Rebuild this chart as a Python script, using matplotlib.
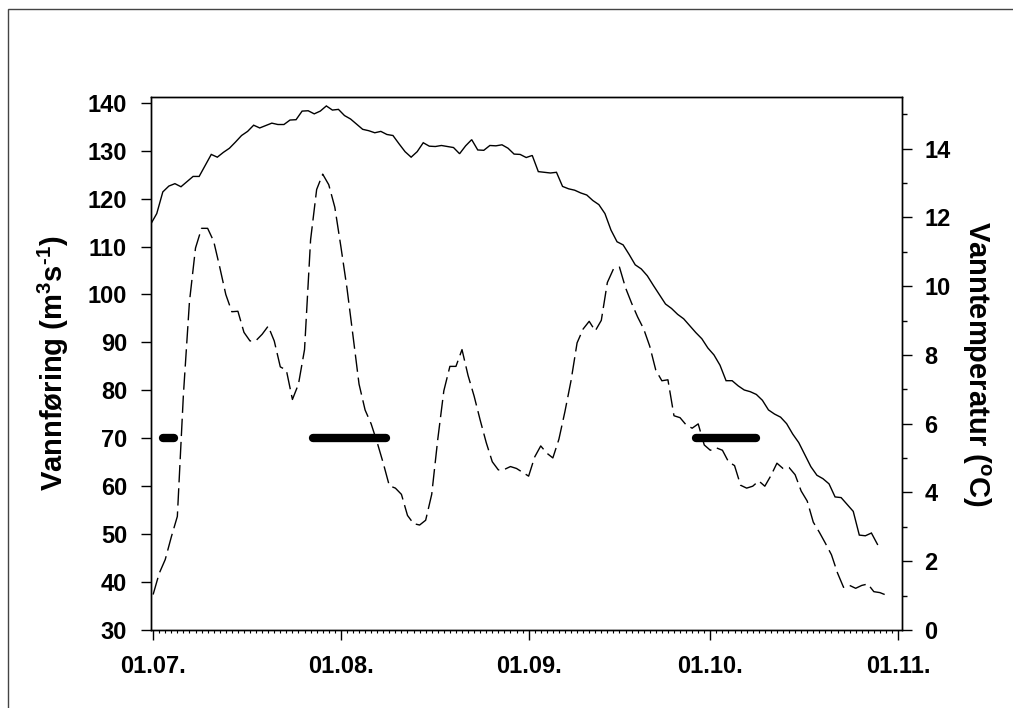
import numpy as np
import matplotlib
matplotlib.use("Agg")
import matplotlib.pyplot as plt
from matplotlib.ticker import FixedLocator, MultipleLocator
from matplotlib.patches import Rectangle

plt.rcParams['font.family'] = ['Liberation Sans', 'DejaVu Sans']
plt.rcParams['font.weight'] = 'bold'
plt.rcParams['mathtext.fontset'] = 'custom'
plt.rcParams['mathtext.rm'] = 'Liberation Sans:bold'
plt.rcParams['mathtext.bf'] = 'Liberation Sans:bold'
plt.rcParams['mathtext.it'] = 'Liberation Sans:bold'
plt.rcParams['mathtext.default'] = 'bf'

# ---- data ----
# water temperature (deg C), daily values, day offset from 01.07. = index - 0.4
temp_day0 = -0.4
temperature = [11.8, 12.11, 12.74, 12.91, 12.98, 12.89, 13.04, 13.19, 13.19, 13.51,
               13.83, 13.75, 13.89, 14.01, 14.19, 14.38, 14.50, 14.68, 14.60, 14.67,
               14.74, 14.70, 14.70, 14.83, 14.84, 15.09, 15.10, 15.01, 15.09, 15.24,
               15.12, 15.14, 14.96, 14.86, 14.71, 14.56, 14.52, 14.46, 14.50, 14.41,
               14.38, 14.14, 13.91, 13.75, 13.91, 14.17, 14.07, 14.06, 14.09, 14.06,
               14.03, 13.85, 14.08, 14.26, 13.96, 13.95, 14.09, 14.08, 14.11, 14.01,
               13.84, 13.83, 13.74, 13.80, 13.33, 13.31, 13.29, 13.31, 12.90, 12.83,
               12.79, 12.71, 12.65, 12.49, 12.37, 12.11, 11.63, 11.29, 11.20, 10.92,
               10.62, 10.50, 10.30, 10.02, 9.75, 9.48, 9.35, 9.18, 9.05, 8.85,
               8.65, 8.47, 8.20, 8.00, 7.70, 7.25, 7.25, 7.10, 6.98, 6.93,
               6.85, 6.68, 6.40, 6.28, 6.19, 6.00, 5.70, 5.45, 5.10, 4.75,
               4.50, 4.40, 4.25, 3.87, 3.85, 3.65, 3.45, 2.76, 2.74, 2.82,
               2.49]

# discharge (m3/s), daily values from 01.07.
discharge = [37.4, 41.8, 44.7, 49.4, 53.7, 79.1, 98.5, 109.7, 113.8, 113.8,
             111.1, 105.7, 100.0, 96.4, 96.5, 92.1, 90.3, 90.4, 91.7, 93.4,
             90.3, 84.9, 84.2, 78.1, 81.3, 88.5, 111.4, 121.9, 125.1, 122.9,
             118.2, 110.0, 101.4, 91.4, 81.3, 75.9, 73.0, 69.1, 64.8, 60.1,
             59.6, 58.3, 53.9, 52.2, 51.9, 52.9, 58.3, 69.8, 79.9, 85.0,
             85.0, 88.5, 83.1, 78.8, 73.8, 69.1, 65.1, 63.4, 63.5, 64.1,
             63.7, 62.9, 62.1, 66.1, 68.4, 66.9, 65.9, 69.8, 75.6, 82.0,
             89.9, 92.8, 94.4, 92.4, 94.6, 102.5, 105.3, 105.7, 101.4, 98.2,
             95.3, 92.8, 89.2, 84.2, 82.0, 82.2, 74.7, 74.3, 72.8, 72.1,
             73.0, 68.6, 67.5, 68.0, 67.5, 65.1, 64.3, 60.2, 59.6, 60.0,
             61.1, 60.0, 62.2, 64.8, 63.7, 63.9, 62.4, 59.0, 56.9, 52.5,
             50.4, 48.1, 45.7, 41.9, 38.9, 39.3, 38.7, 39.3, 39.6, 38.0,
             37.8, 37.3]

# sampling periods (day offsets from 01.07.) drawn at discharge level 70
period_start = [1.7, 26.4, 89.7]
period_end = [3.5, 38.4, 99.6]
period_level = 70

month_days = [0, 31, 62, 92, 123]
month_labels = ['01.07.', '01.08.', '01.09.', '01.10.', '01.11.']

# ---- figure ----
W, H = 1013, 708
fig = plt.figure(figsize=(W / 100, H / 100), dpi=100)
fig.patches.append(Rectangle((8 / W, -0.1), 1.2, (H - 8.5) / H + 0.1,
                             transform=fig.transFigure, fill=False,
                             edgecolor='#444444', linewidth=1.0))

ax = fig.add_axes([151 / W, (H - 630) / H, (901.7 - 151) / W, (630 - 97) / H])
ax2 = ax.twinx()

t_days = temp_day0 + np.arange(len(temperature))
q_days = np.arange(len(discharge))

ax2.plot(t_days, temperature, color='black', lw=1.0, solid_joinstyle='miter')
ax.plot(q_days, discharge, color='black', lw=1.0, dashes=(12.5, 4.2))
for s, e in zip(period_start, period_end):
    ax.plot([s, e], [period_level, period_level], color='black', lw=6,
            solid_capstyle='round')

ax.set_xlim(-0.35, 123.6)
ax.set_ylim(30, 141.2)
ax2.set_ylim(0, 15.5)

ax.set_yticks(np.arange(30, 141, 10))
ax.xaxis.set_major_locator(FixedLocator(month_days))
ax.set_xticklabels(month_labels)
ax.xaxis.set_minor_locator(MultipleLocator(1))
ax2.yaxis.set_major_locator(MultipleLocator(2))
ax2.yaxis.set_minor_locator(MultipleLocator(1))

for a in (ax, ax2):
    for sp in a.spines.values():
        sp.set_linewidth(1.0)
ax.tick_params(axis='y', which='major', direction='out', length=7.2, width=1,
               labelsize=17, pad=10)
ax.tick_params(axis='x', which='major', direction='out', length=7.2, width=1,
               labelsize=17, pad=11)
ax.tick_params(axis='x', which='minor', direction='out', length=2.5, width=0.8)
ax2.tick_params(axis='y', which='major', direction='out', length=7.2, width=1,
                labelsize=17, pad=9)
ax2.tick_params(axis='y', which='minor', direction='out', length=3.6, width=1)
for lab in ax.get_xticklabels() + ax.get_yticklabels() + ax2.get_yticklabels():
    lab.set_fontweight('bold')

ax.set_ylabel(r'Vannføring (m$^{3}$s$^{\text{-}1}$)', fontsize=21,
              fontweight='bold', labelpad=12)
ax2.set_ylabel('Vanntemperatur ($^{o}$C)', fontsize=21, fontweight='bold',
               rotation=-90, labelpad=30)

fig.savefig('out.png', dpi=100)
